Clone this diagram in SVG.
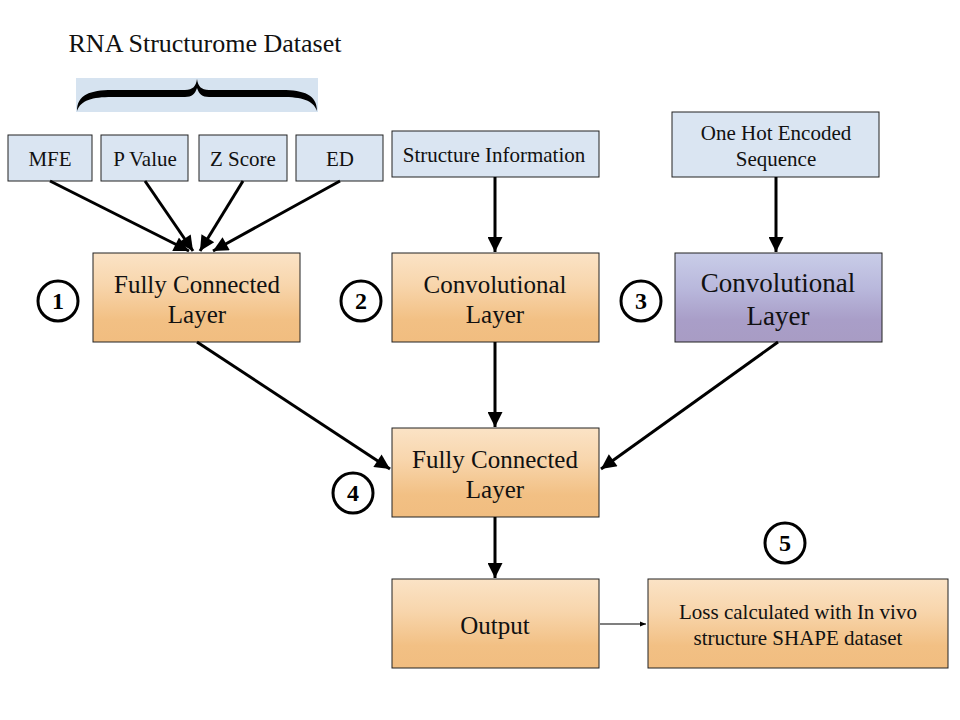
<svg xmlns="http://www.w3.org/2000/svg" width="960" height="720" viewBox="0 0 960 720">
<defs>
<linearGradient id="og" x1="0" y1="0" x2="0" y2="1">
<stop offset="0" stop-color="#fbe3c6"/><stop offset="0.35" stop-color="#f8d6ad"/><stop offset="0.75" stop-color="#f2c084"/><stop offset="1" stop-color="#f1bd80"/>
</linearGradient>
<linearGradient id="pg" x1="0" y1="0" x2="0" y2="1">
<stop offset="0" stop-color="#c9cde8"/><stop offset="0.4" stop-color="#b9b8dc"/><stop offset="0.75" stop-color="#a99ec8"/><stop offset="1" stop-color="#a89cc4"/>
</linearGradient>
<marker id="ah" viewBox="0 0 10 10" refX="10" refY="5" markerWidth="6.5" markerHeight="5" orient="auto" markerUnits="strokeWidth">
<path d="M0,0 L10,5 L0,10 z" fill="#000"/>
</marker>
<marker id="ahs" viewBox="0 0 10 10" refX="10" refY="5" markerWidth="6" markerHeight="5" orient="auto" markerUnits="strokeWidth">
<path d="M0,1 L10,5 L0,9 z" fill="#000"/>
</marker>
</defs>
<style>
text{font-family:"Liberation Serif","Times New Roman",serif;fill:#111;text-anchor:middle}
.in{fill:#dae5f2;stroke:#222;stroke-width:1}
.or{fill:url(#og);stroke:#222;stroke-width:1}
.pu{fill:url(#pg);stroke:#222;stroke-width:1}
.s{font-size:21px}
.l{font-size:25px}
.c{fill:#fff;stroke:#000;stroke-width:3}
.n{font-weight:bold;font-size:24px;fill:#000}
.e{stroke:#000;stroke-width:3;fill:none;marker-end:url(#ah)}
</style>
<rect width="960" height="720" fill="#fff"/>
<g id="title">
<text x="205" y="52" style="font-size:26px">RNA Structurome Dataset</text>
<rect x="76" y="78" width="242" height="34" fill="#d6e3f0"/>
<path d="M77,111 C77,95 90,90 112,90 L185,90 C193,90 196,86 197,79 C198,86 201,90 209,90 L282,90 C304,90 317,95 317,111 C313,100 302,97 282,97 L209,97 C202,97 199,94 197,88 C195,94 192,97 185,97 L112,97 C92,97 81,100 77,111 z" fill="#000"/>
</g>
<g id="mfe"><rect class="in" x="8" y="135" width="84" height="46"/><text class="s" x="50" y="166">MFE</text></g>
<g id="pvalue"><rect class="in" x="101" y="135" width="87" height="46"/><text class="s" x="145" y="166">P Value</text></g>
<g id="zscore"><rect class="in" x="199" y="135" width="88" height="46"/><text class="s" x="243" y="166">Z Score</text></g>
<g id="ed"><rect class="in" x="296" y="135" width="87" height="46"/><text class="s" x="340" y="166">ED</text></g>
<g id="structinfo"><rect class="in" x="392" y="131" width="207" height="46"/><text class="s" x="494" y="162">Structure Information</text></g>
<g id="onehot"><rect class="in" x="672" y="112" width="207" height="65"/><text class="s" x="776" y="140">One Hot Encoded</text><text class="s" x="776" y="166">Sequence</text></g>
<g id="fc1"><rect class="or" x="93" y="253" width="207" height="89"/><text class="l" x="197" y="293">Fully Connected</text><text class="l" x="197" y="323">Layer</text></g>
<g id="conv2"><rect class="or" x="392" y="253" width="207" height="89"/><text class="l" x="495" y="293">Convolutional</text><text class="l" x="495" y="323">Layer</text></g>
<g id="conv3"><rect class="pu" x="675" y="253" width="207" height="89"/><text x="778" y="292" style="font-size:27px">Convolutional</text><text x="778" y="325" style="font-size:27px">Layer</text></g>
<g id="fc4"><rect class="or" x="392" y="428" width="207" height="89"/><text class="l" x="495" y="468">Fully Connected</text><text class="l" x="495" y="498">Layer</text></g>
<g id="output"><rect class="or" x="392" y="579" width="207" height="89"/><text class="l" x="495" y="634">Output</text></g>
<g id="loss"><rect class="or" x="648" y="579" width="300" height="89"/><text class="s" x="798" y="619">Loss calculated with In vivo</text><text class="s" x="798" y="645">structure SHAPE dataset</text></g>
<g id="badge1"><circle class="c" cx="58" cy="301" r="20"/><text class="n" x="58" y="309">1</text></g>
<g id="badge2"><circle class="c" cx="361" cy="301" r="20"/><text class="n" x="361" y="309">2</text></g>
<g id="badge3"><circle class="c" cx="641" cy="301" r="20"/><text class="n" x="641" y="309">3</text></g>
<g id="badge4"><circle class="c" cx="353" cy="493" r="20"/><text class="n" x="353" y="501">4</text></g>
<g id="badge5"><circle class="c" cx="785" cy="543" r="20"/><text class="n" x="785" y="551">5</text></g>
<g id="connectors">
<line class="e" x1="50" y1="181" x2="189" y2="251"/>
<line class="e" x1="145" y1="181" x2="193" y2="251"/>
<line class="e" x1="243" y1="181" x2="200" y2="251"/>
<line class="e" x1="340" y1="181" x2="213" y2="251"/>
<line class="e" x1="495" y1="177" x2="495" y2="252"/>
<line class="e" x1="776" y1="177" x2="776" y2="252"/>
<line class="e" x1="197" y1="342" x2="390" y2="469"/>
<line class="e" x1="495" y1="342" x2="495" y2="427"/>
<line class="e" x1="778" y1="342" x2="601" y2="469"/>
<line class="e" x1="495" y1="517" x2="495" y2="578"/>
<line x1="600" y1="624" x2="646" y2="624" stroke="#000" stroke-width="1.2" marker-end="url(#ahs)"/>
</g>
</svg>
